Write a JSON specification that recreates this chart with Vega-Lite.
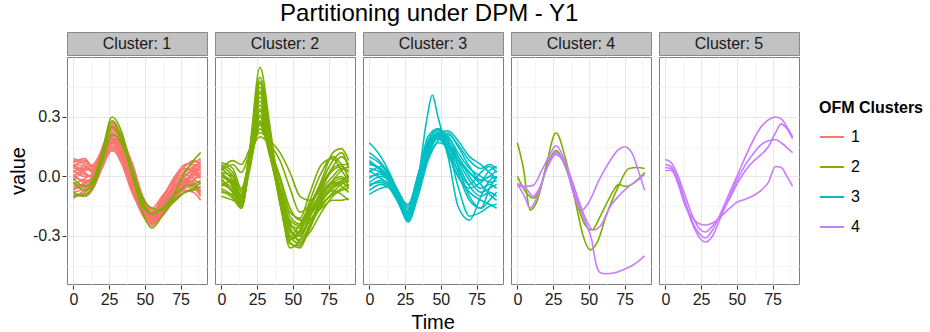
{
"$schema": "https://vega.github.io/schema/vega-lite/v6.json",
"padding": {"left": 8, "top": 1, "right": 5, "bottom": 0},
"config": {
  "font": "Liberation Sans",
  "view": {"stroke": null},
  "title": {"fontSize": 24, "fontWeight": "normal", "color": "#000000", "anchor": "middle", "offset": 6, "dx": -37},
  "concat": {"spacing": 0}
},
"title": "Partitioning under DPM - Y1",
"datasets": {
"strips": [
{"c":1,"lab":"Cluster: 1"},{"c":2,"lab":"Cluster: 2"},{"c":3,"lab":"Cluster: 3"},{"c":4,"lab":"Cluster: 4"},{"c":5,"lab":"Cluster: 5"}
],
"curves": [
{"c":1,"g":1,"i":"a1","t":0,"v":0.08},{"c":1,"g":1,"i":"a1","t":8,"v":0.06},{"c":1,"g":1,"i":"a1","t":14,"v":0.03},{"c":1,"g":1,"i":"a1","t":20,"v":0.12},{"c":1,"g":1,"i":"a1","t":27,"v":0.24},{"c":1,"g":1,"i":"a1","t":34,"v":0.16},{"c":1,"g":1,"i":"a1","t":41,"v":0.0},{"c":1,"g":1,"i":"a1","t":48,"v":-0.14},{"c":1,"g":1,"i":"a1","t":55,"v":-0.2},{"c":1,"g":1,"i":"a1","t":62,"v":-0.14},{"c":1,"g":1,"i":"a1","t":70,"v":-0.06},{"c":1,"g":1,"i":"a1","t":78,"v":0.02},{"c":1,"g":1,"i":"a1","t":84,"v":0.05},{"c":1,"g":1,"i":"a1","t":89,"v":0.07},
{"c":1,"g":1,"i":"a2","t":0,"v":0.05},{"c":1,"g":1,"i":"a2","t":8,"v":0.08},{"c":1,"g":1,"i":"a2","t":14,"v":0.05},{"c":1,"g":1,"i":"a2","t":20,"v":0.14},{"c":1,"g":1,"i":"a2","t":27,"v":0.26},{"c":1,"g":1,"i":"a2","t":34,"v":0.2},{"c":1,"g":1,"i":"a2","t":41,"v":0.06},{"c":1,"g":1,"i":"a2","t":48,"v":-0.12},{"c":1,"g":1,"i":"a2","t":55,"v":-0.22},{"c":1,"g":1,"i":"a2","t":62,"v":-0.17},{"c":1,"g":1,"i":"a2","t":70,"v":-0.08},{"c":1,"g":1,"i":"a2","t":78,"v":0.0},{"c":1,"g":1,"i":"a2","t":84,"v":0.04},{"c":1,"g":1,"i":"a2","t":89,"v":0.03},
{"c":1,"g":1,"i":"a3","t":0,"v":0.0},{"c":1,"g":1,"i":"a3","t":8,"v":-0.02},{"c":1,"g":1,"i":"a3","t":14,"v":-0.02},{"c":1,"g":1,"i":"a3","t":20,"v":0.08},{"c":1,"g":1,"i":"a3","t":27,"v":0.2},{"c":1,"g":1,"i":"a3","t":34,"v":0.12},{"c":1,"g":1,"i":"a3","t":41,"v":-0.04},{"c":1,"g":1,"i":"a3","t":48,"v":-0.17},{"c":1,"g":1,"i":"a3","t":55,"v":-0.24},{"c":1,"g":1,"i":"a3","t":62,"v":-0.18},{"c":1,"g":1,"i":"a3","t":70,"v":-0.1},{"c":1,"g":1,"i":"a3","t":78,"v":-0.04},{"c":1,"g":1,"i":"a3","t":84,"v":0.0},{"c":1,"g":1,"i":"a3","t":89,"v":0.02},
{"c":1,"g":1,"i":"a4","t":0,"v":-0.05},{"c":1,"g":1,"i":"a4","t":8,"v":-0.04},{"c":1,"g":1,"i":"a4","t":14,"v":0.0},{"c":1,"g":1,"i":"a4","t":20,"v":0.1},{"c":1,"g":1,"i":"a4","t":27,"v":0.22},{"c":1,"g":1,"i":"a4","t":34,"v":0.14},{"c":1,"g":1,"i":"a4","t":41,"v":-0.02},{"c":1,"g":1,"i":"a4","t":48,"v":-0.16},{"c":1,"g":1,"i":"a4","t":55,"v":-0.21},{"c":1,"g":1,"i":"a4","t":62,"v":-0.16},{"c":1,"g":1,"i":"a4","t":70,"v":-0.09},{"c":1,"g":1,"i":"a4","t":78,"v":-0.05},{"c":1,"g":1,"i":"a4","t":84,"v":-0.02},{"c":1,"g":1,"i":"a4","t":89,"v":-0.04},
{"c":1,"g":1,"i":"a5","t":0,"v":-0.1},{"c":1,"g":1,"i":"a5","t":8,"v":-0.08},{"c":1,"g":1,"i":"a5","t":14,"v":-0.04},{"c":1,"g":1,"i":"a5","t":20,"v":0.06},{"c":1,"g":1,"i":"a5","t":27,"v":0.16},{"c":1,"g":1,"i":"a5","t":34,"v":0.1},{"c":1,"g":1,"i":"a5","t":41,"v":-0.06},{"c":1,"g":1,"i":"a5","t":48,"v":-0.18},{"c":1,"g":1,"i":"a5","t":55,"v":-0.23},{"c":1,"g":1,"i":"a5","t":62,"v":-0.2},{"c":1,"g":1,"i":"a5","t":70,"v":-0.13},{"c":1,"g":1,"i":"a5","t":78,"v":-0.08},{"c":1,"g":1,"i":"a5","t":84,"v":-0.06},{"c":1,"g":1,"i":"a5","t":89,"v":-0.1},
{"c":1,"g":1,"i":"a6","t":0,"v":0.03},{"c":1,"g":1,"i":"a6","t":8,"v":0.0},{"c":1,"g":1,"i":"a6","t":14,"v":0.01},{"c":1,"g":1,"i":"a6","t":20,"v":0.09},{"c":1,"g":1,"i":"a6","t":27,"v":0.18},{"c":1,"g":1,"i":"a6","t":34,"v":0.15},{"c":1,"g":1,"i":"a6","t":41,"v":0.02},{"c":1,"g":1,"i":"a6","t":48,"v":-0.1},{"c":1,"g":1,"i":"a6","t":55,"v":-0.17},{"c":1,"g":1,"i":"a6","t":62,"v":-0.13},{"c":1,"g":1,"i":"a6","t":70,"v":-0.04},{"c":1,"g":1,"i":"a6","t":78,"v":0.03},{"c":1,"g":1,"i":"a6","t":84,"v":0.06},{"c":1,"g":1,"i":"a6","t":89,"v":0.05},
{"c":1,"g":1,"i":"a7","t":0,"v":-0.02},{"c":1,"g":1,"i":"a7","t":8,"v":0.03},{"c":1,"g":1,"i":"a7","t":14,"v":0.04},{"c":1,"g":1,"i":"a7","t":20,"v":0.11},{"c":1,"g":1,"i":"a7","t":27,"v":0.21},{"c":1,"g":1,"i":"a7","t":34,"v":0.17},{"c":1,"g":1,"i":"a7","t":41,"v":0.07},{"c":1,"g":1,"i":"a7","t":48,"v":-0.09},{"c":1,"g":1,"i":"a7","t":55,"v":-0.18},{"c":1,"g":1,"i":"a7","t":62,"v":-0.15},{"c":1,"g":1,"i":"a7","t":70,"v":-0.06},{"c":1,"g":1,"i":"a7","t":78,"v":0.01},{"c":1,"g":1,"i":"a7","t":84,"v":-0.01},{"c":1,"g":1,"i":"a7","t":89,"v":0.0},
{"c":1,"g":1,"i":"a8","t":0,"v":0.06},{"c":1,"g":1,"i":"a8","t":8,"v":0.02},{"c":1,"g":1,"i":"a8","t":14,"v":-0.01},{"c":1,"g":1,"i":"a8","t":20,"v":0.07},{"c":1,"g":1,"i":"a8","t":27,"v":0.15},{"c":1,"g":1,"i":"a8","t":34,"v":0.11},{"c":1,"g":1,"i":"a8","t":41,"v":0.0},{"c":1,"g":1,"i":"a8","t":48,"v":-0.13},{"c":1,"g":1,"i":"a8","t":55,"v":-0.19},{"c":1,"g":1,"i":"a8","t":62,"v":-0.12},{"c":1,"g":1,"i":"a8","t":70,"v":-0.02},{"c":1,"g":1,"i":"a8","t":78,"v":0.05},{"c":1,"g":1,"i":"a8","t":84,"v":0.08},{"c":1,"g":1,"i":"a8","t":89,"v":0.06},
{"c":1,"g":1,"i":"a9","t":0,"v":-0.08},{"c":1,"g":1,"i":"a9","t":8,"v":-0.06},{"c":1,"g":1,"i":"a9","t":14,"v":-0.03},{"c":1,"g":1,"i":"a9","t":20,"v":0.05},{"c":1,"g":1,"i":"a9","t":27,"v":0.13},{"c":1,"g":1,"i":"a9","t":34,"v":0.08},{"c":1,"g":1,"i":"a9","t":41,"v":-0.05},{"c":1,"g":1,"i":"a9","t":48,"v":-0.15},{"c":1,"g":1,"i":"a9","t":55,"v":-0.2},{"c":1,"g":1,"i":"a9","t":62,"v":-0.17},{"c":1,"g":1,"i":"a9","t":70,"v":-0.11},{"c":1,"g":1,"i":"a9","t":78,"v":-0.07},{"c":1,"g":1,"i":"a9","t":84,"v":-0.08},{"c":1,"g":1,"i":"a9","t":89,"v":-0.12},
{"c":1,"g":1,"i":"a10","t":0,"v":0.02},{"c":1,"g":1,"i":"a10","t":8,"v":0.05},{"c":1,"g":1,"i":"a10","t":14,"v":0.02},{"c":1,"g":1,"i":"a10","t":20,"v":0.1},{"c":1,"g":1,"i":"a10","t":27,"v":0.19},{"c":1,"g":1,"i":"a10","t":34,"v":0.09},{"c":1,"g":1,"i":"a10","t":41,"v":-0.07},{"c":1,"g":1,"i":"a10","t":48,"v":-0.19},{"c":1,"g":1,"i":"a10","t":55,"v":-0.25},{"c":1,"g":1,"i":"a10","t":62,"v":-0.19},{"c":1,"g":1,"i":"a10","t":70,"v":-0.11},{"c":1,"g":1,"i":"a10","t":78,"v":-0.03},{"c":1,"g":1,"i":"a10","t":84,"v":0.02},{"c":1,"g":1,"i":"a10","t":89,"v":0.0},
{"c":1,"g":1,"i":"a11","t":0,"v":-0.04},{"c":1,"g":1,"i":"a11","t":8,"v":-0.01},{"c":1,"g":1,"i":"a11","t":14,"v":0.02},{"c":1,"g":1,"i":"a11","t":20,"v":0.12},{"c":1,"g":1,"i":"a11","t":27,"v":0.23},{"c":1,"g":1,"i":"a11","t":34,"v":0.18},{"c":1,"g":1,"i":"a11","t":41,"v":0.03},{"c":1,"g":1,"i":"a11","t":48,"v":-0.11},{"c":1,"g":1,"i":"a11","t":55,"v":-0.16},{"c":1,"g":1,"i":"a11","t":62,"v":-0.1},{"c":1,"g":1,"i":"a11","t":70,"v":-0.03},{"c":1,"g":1,"i":"a11","t":78,"v":0.04},{"c":1,"g":1,"i":"a11","t":84,"v":0.03},{"c":1,"g":1,"i":"a11","t":89,"v":0.01},
{"c":1,"g":1,"i":"a12","t":0,"v":0.07},{"c":1,"g":1,"i":"a12","t":8,"v":0.09},{"c":1,"g":1,"i":"a12","t":14,"v":0.04},{"c":1,"g":1,"i":"a12","t":20,"v":0.1},{"c":1,"g":1,"i":"a12","t":27,"v":0.17},{"c":1,"g":1,"i":"a12","t":34,"v":0.13},{"c":1,"g":1,"i":"a12","t":41,"v":-0.01},{"c":1,"g":1,"i":"a12","t":48,"v":-0.14},{"c":1,"g":1,"i":"a12","t":55,"v":-0.22},{"c":1,"g":1,"i":"a12","t":62,"v":-0.19},{"c":1,"g":1,"i":"a12","t":70,"v":-0.09},{"c":1,"g":1,"i":"a12","t":78,"v":-0.02},{"c":1,"g":1,"i":"a12","t":84,"v":0.01},{"c":1,"g":1,"i":"a12","t":89,"v":0.04},
{"c":1,"g":1,"i":"a13","t":0,"v":-0.11},{"c":1,"g":1,"i":"a13","t":8,"v":-0.07},{"c":1,"g":1,"i":"a13","t":14,"v":-0.05},{"c":1,"g":1,"i":"a13","t":20,"v":0.04},{"c":1,"g":1,"i":"a13","t":27,"v":0.14},{"c":1,"g":1,"i":"a13","t":34,"v":0.06},{"c":1,"g":1,"i":"a13","t":41,"v":-0.08},{"c":1,"g":1,"i":"a13","t":48,"v":-0.17},{"c":1,"g":1,"i":"a13","t":55,"v":-0.21},{"c":1,"g":1,"i":"a13","t":62,"v":-0.14},{"c":1,"g":1,"i":"a13","t":70,"v":-0.07},{"c":1,"g":1,"i":"a13","t":78,"v":-0.03},{"c":1,"g":1,"i":"a13","t":84,"v":-0.05},{"c":1,"g":1,"i":"a13","t":89,"v":-0.07},
{"c":1,"g":1,"i":"a14","t":0,"v":0.01},{"c":1,"g":1,"i":"a14","t":8,"v":-0.03},{"c":1,"g":1,"i":"a14","t":14,"v":0.0},{"c":1,"g":1,"i":"a14","t":20,"v":0.08},{"c":1,"g":1,"i":"a14","t":27,"v":0.17},{"c":1,"g":1,"i":"a14","t":34,"v":0.13},{"c":1,"g":1,"i":"a14","t":41,"v":0.01},{"c":1,"g":1,"i":"a14","t":48,"v":-0.12},{"c":1,"g":1,"i":"a14","t":55,"v":-0.2},{"c":1,"g":1,"i":"a14","t":62,"v":-0.16},{"c":1,"g":1,"i":"a14","t":70,"v":-0.05},{"c":1,"g":1,"i":"a14","t":78,"v":0.0},{"c":1,"g":1,"i":"a14","t":84,"v":0.04},{"c":1,"g":1,"i":"a14","t":89,"v":0.08},
{"c":1,"g":1,"i":"a15","t":0,"v":-0.06},{"c":1,"g":1,"i":"a15","t":8,"v":-0.05},{"c":1,"g":1,"i":"a15","t":14,"v":-0.02},{"c":1,"g":1,"i":"a15","t":20,"v":0.07},{"c":1,"g":1,"i":"a15","t":27,"v":0.18},{"c":1,"g":1,"i":"a15","t":34,"v":0.1},{"c":1,"g":1,"i":"a15","t":41,"v":-0.03},{"c":1,"g":1,"i":"a15","t":48,"v":-0.16},{"c":1,"g":1,"i":"a15","t":55,"v":-0.22},{"c":1,"g":1,"i":"a15","t":62,"v":-0.14},{"c":1,"g":1,"i":"a15","t":70,"v":-0.05},{"c":1,"g":1,"i":"a15","t":78,"v":-0.01},{"c":1,"g":1,"i":"a15","t":84,"v":-0.04},{"c":1,"g":1,"i":"a15","t":89,"v":-0.06},
{"c":1,"g":1,"i":"a16","t":0,"v":0.04},{"c":1,"g":1,"i":"a16","t":8,"v":0.04},{"c":1,"g":1,"i":"a16","t":14,"v":0.03},{"c":1,"g":1,"i":"a16","t":20,"v":0.13},{"c":1,"g":1,"i":"a16","t":27,"v":0.27},{"c":1,"g":1,"i":"a16","t":34,"v":0.19},{"c":1,"g":1,"i":"a16","t":41,"v":0.01},{"c":1,"g":1,"i":"a16","t":48,"v":-0.15},{"c":1,"g":1,"i":"a16","t":55,"v":-0.24},{"c":1,"g":1,"i":"a16","t":62,"v":-0.2},{"c":1,"g":1,"i":"a16","t":70,"v":-0.12},{"c":1,"g":1,"i":"a16","t":78,"v":-0.05},{"c":1,"g":1,"i":"a16","t":84,"v":-0.02},{"c":1,"g":1,"i":"a16","t":89,"v":0.02},
{"c":1,"g":1,"i":"a17","t":0,"v":0.09},{"c":1,"g":1,"i":"a17","t":8,"v":0.07},{"c":1,"g":1,"i":"a17","t":14,"v":0.05},{"c":1,"g":1,"i":"a17","t":20,"v":0.11},{"c":1,"g":1,"i":"a17","t":27,"v":0.2},{"c":1,"g":1,"i":"a17","t":34,"v":0.14},{"c":1,"g":1,"i":"a17","t":41,"v":0.0},{"c":1,"g":1,"i":"a17","t":48,"v":-0.13},{"c":1,"g":1,"i":"a17","t":55,"v":-0.18},{"c":1,"g":1,"i":"a17","t":62,"v":-0.11},{"c":1,"g":1,"i":"a17","t":70,"v":-0.01},{"c":1,"g":1,"i":"a17","t":78,"v":0.06},{"c":1,"g":1,"i":"a17","t":84,"v":0.07},{"c":1,"g":1,"i":"a17","t":89,"v":0.09},
{"c":1,"g":1,"i":"a18","t":0,"v":0.0},{"c":1,"g":1,"i":"a18","t":8,"v":0.04},{"c":1,"g":1,"i":"a18","t":14,"v":0.06},{"c":1,"g":1,"i":"a18","t":20,"v":0.13},{"c":1,"g":1,"i":"a18","t":27,"v":0.22},{"c":1,"g":1,"i":"a18","t":34,"v":0.16},{"c":1,"g":1,"i":"a18","t":41,"v":0.03},{"c":1,"g":1,"i":"a18","t":48,"v":-0.13},{"c":1,"g":1,"i":"a18","t":55,"v":-0.21},{"c":1,"g":1,"i":"a18","t":62,"v":-0.18},{"c":1,"g":1,"i":"a18","t":70,"v":-0.1},{"c":1,"g":1,"i":"a18","t":78,"v":-0.03},{"c":1,"g":1,"i":"a18","t":84,"v":0.01},{"c":1,"g":1,"i":"a18","t":89,"v":-0.01},
{"c":1,"g":1,"i":"a19","t":0,"v":-0.07},{"c":1,"g":1,"i":"a19","t":8,"v":-0.03},{"c":1,"g":1,"i":"a19","t":14,"v":0.0},{"c":1,"g":1,"i":"a19","t":20,"v":0.09},{"c":1,"g":1,"i":"a19","t":27,"v":0.19},{"c":1,"g":1,"i":"a19","t":34,"v":0.12},{"c":1,"g":1,"i":"a19","t":41,"v":-0.02},{"c":1,"g":1,"i":"a19","t":48,"v":-0.15},{"c":1,"g":1,"i":"a19","t":55,"v":-0.23},{"c":1,"g":1,"i":"a19","t":62,"v":-0.17},{"c":1,"g":1,"i":"a19","t":70,"v":-0.08},{"c":1,"g":1,"i":"a19","t":78,"v":-0.02},{"c":1,"g":1,"i":"a19","t":84,"v":0.02},{"c":1,"g":1,"i":"a19","t":89,"v":0.05},
{"c":1,"g":1,"i":"a20","t":0,"v":0.05},{"c":1,"g":1,"i":"a20","t":8,"v":0.01},{"c":1,"g":1,"i":"a20","t":14,"v":0.0},{"c":1,"g":1,"i":"a20","t":20,"v":0.09},{"c":1,"g":1,"i":"a20","t":27,"v":0.21},{"c":1,"g":1,"i":"a20","t":34,"v":0.17},{"c":1,"g":1,"i":"a20","t":41,"v":0.04},{"c":1,"g":1,"i":"a20","t":48,"v":-0.11},{"c":1,"g":1,"i":"a20","t":55,"v":-0.19},{"c":1,"g":1,"i":"a20","t":62,"v":-0.15},{"c":1,"g":1,"i":"a20","t":70,"v":-0.07},{"c":1,"g":1,"i":"a20","t":78,"v":0.0},{"c":1,"g":1,"i":"a20","t":84,"v":0.03},{"c":1,"g":1,"i":"a20","t":89,"v":0.03},
{"c":1,"g":1,"i":"a21","t":0,"v":-0.03},{"c":1,"g":1,"i":"a21","t":8,"v":-0.05},{"c":1,"g":1,"i":"a21","t":14,"v":-0.03},{"c":1,"g":1,"i":"a21","t":20,"v":0.06},{"c":1,"g":1,"i":"a21","t":27,"v":0.15},{"c":1,"g":1,"i":"a21","t":34,"v":0.09},{"c":1,"g":1,"i":"a21","t":41,"v":-0.04},{"c":1,"g":1,"i":"a21","t":48,"v":-0.16},{"c":1,"g":1,"i":"a21","t":55,"v":-0.2},{"c":1,"g":1,"i":"a21","t":62,"v":-0.13},{"c":1,"g":1,"i":"a21","t":70,"v":-0.06},{"c":1,"g":1,"i":"a21","t":78,"v":-0.02},{"c":1,"g":1,"i":"a21","t":84,"v":-0.03},{"c":1,"g":1,"i":"a21","t":89,"v":-0.08},
{"c":1,"g":1,"i":"a22","t":0,"v":0.06},{"c":1,"g":1,"i":"a22","t":8,"v":0.05},{"c":1,"g":1,"i":"a22","t":14,"v":0.02},{"c":1,"g":1,"i":"a22","t":20,"v":0.11},{"c":1,"g":1,"i":"a22","t":27,"v":0.25},{"c":1,"g":1,"i":"a22","t":34,"v":0.18},{"c":1,"g":1,"i":"a22","t":41,"v":0.02},{"c":1,"g":1,"i":"a22","t":48,"v":-0.13},{"c":1,"g":1,"i":"a22","t":55,"v":-0.23},{"c":1,"g":1,"i":"a22","t":62,"v":-0.2},{"c":1,"g":1,"i":"a22","t":70,"v":-0.11},{"c":1,"g":1,"i":"a22","t":78,"v":-0.04},{"c":1,"g":1,"i":"a22","t":84,"v":0.03},{"c":1,"g":1,"i":"a22","t":89,"v":0.06},
{"c":1,"g":1,"i":"a23","t":0,"v":-0.09},{"c":1,"g":1,"i":"a23","t":8,"v":-0.1},{"c":1,"g":1,"i":"a23","t":14,"v":-0.06},{"c":1,"g":1,"i":"a23","t":20,"v":0.05},{"c":1,"g":1,"i":"a23","t":27,"v":0.17},{"c":1,"g":1,"i":"a23","t":34,"v":0.11},{"c":1,"g":1,"i":"a23","t":41,"v":-0.04},{"c":1,"g":1,"i":"a23","t":48,"v":-0.17},{"c":1,"g":1,"i":"a23","t":55,"v":-0.22},{"c":1,"g":1,"i":"a23","t":62,"v":-0.18},{"c":1,"g":1,"i":"a23","t":70,"v":-0.12},{"c":1,"g":1,"i":"a23","t":78,"v":-0.06},{"c":1,"g":1,"i":"a23","t":84,"v":-0.05},{"c":1,"g":1,"i":"a23","t":89,"v":-0.09},
{"c":1,"g":2,"i":"b1","t":0,"v":-0.03},{"c":1,"g":2,"i":"b1","t":8,"v":-0.07},{"c":1,"g":2,"i":"b1","t":14,"v":-0.02},{"c":1,"g":2,"i":"b1","t":20,"v":0.12},{"c":1,"g":2,"i":"b1","t":27,"v":0.3},{"c":1,"g":2,"i":"b1","t":34,"v":0.22},{"c":1,"g":2,"i":"b1","t":41,"v":0.02},{"c":1,"g":2,"i":"b1","t":48,"v":-0.17},{"c":1,"g":2,"i":"b1","t":55,"v":-0.26},{"c":1,"g":2,"i":"b1","t":62,"v":-0.2},{"c":1,"g":2,"i":"b1","t":70,"v":-0.1},{"c":1,"g":2,"i":"b1","t":78,"v":0.02},{"c":1,"g":2,"i":"b1","t":84,"v":0.08},{"c":1,"g":2,"i":"b1","t":89,"v":0.12},
{"c":1,"g":2,"i":"b2","t":0,"v":-0.08},{"c":1,"g":2,"i":"b2","t":8,"v":-0.1},{"c":1,"g":2,"i":"b2","t":14,"v":-0.04},{"c":1,"g":2,"i":"b2","t":20,"v":0.1},{"c":1,"g":2,"i":"b2","t":27,"v":0.28},{"c":1,"g":2,"i":"b2","t":34,"v":0.2},{"c":1,"g":2,"i":"b2","t":41,"v":0.04},{"c":1,"g":2,"i":"b2","t":48,"v":-0.1},{"c":1,"g":2,"i":"b2","t":55,"v":-0.16},{"c":1,"g":2,"i":"b2","t":62,"v":-0.17},{"c":1,"g":2,"i":"b2","t":70,"v":-0.13},{"c":1,"g":2,"i":"b2","t":78,"v":-0.08},{"c":1,"g":2,"i":"b2","t":84,"v":-0.06},{"c":1,"g":2,"i":"b2","t":89,"v":-0.03},
{"c":1,"g":2,"i":"b3","t":0,"v":-0.01},{"c":1,"g":2,"i":"b3","t":8,"v":-0.05},{"c":1,"g":2,"i":"b3","t":14,"v":-0.01},{"c":1,"g":2,"i":"b3","t":20,"v":0.1},{"c":1,"g":2,"i":"b3","t":27,"v":0.25},{"c":1,"g":2,"i":"b3","t":34,"v":0.18},{"c":1,"g":2,"i":"b3","t":41,"v":0.01},{"c":1,"g":2,"i":"b3","t":48,"v":-0.14},{"c":1,"g":2,"i":"b3","t":55,"v":-0.19},{"c":1,"g":2,"i":"b3","t":62,"v":-0.16},{"c":1,"g":2,"i":"b3","t":70,"v":-0.12},{"c":1,"g":2,"i":"b3","t":78,"v":-0.08},{"c":1,"g":2,"i":"b3","t":84,"v":-0.07},{"c":1,"g":2,"i":"b3","t":89,"v":-0.05},
{"c":1,"g":2,"i":"b4","t":0,"v":-0.1},{"c":1,"g":2,"i":"b4","t":8,"v":-0.09},{"c":1,"g":2,"i":"b4","t":14,"v":-0.05},{"c":1,"g":2,"i":"b4","t":20,"v":0.07},{"c":1,"g":2,"i":"b4","t":27,"v":0.21},{"c":1,"g":2,"i":"b4","t":34,"v":0.16},{"c":1,"g":2,"i":"b4","t":41,"v":0.02},{"c":1,"g":2,"i":"b4","t":48,"v":-0.12},{"c":1,"g":2,"i":"b4","t":55,"v":-0.19},{"c":1,"g":2,"i":"b4","t":62,"v":-0.16},{"c":1,"g":2,"i":"b4","t":70,"v":-0.1},{"c":1,"g":2,"i":"b4","t":78,"v":-0.05},{"c":1,"g":2,"i":"b4","t":84,"v":-0.04},{"c":1,"g":2,"i":"b4","t":89,"v":-0.02},
{"c":2,"g":2,"i":"d1","t":0,"v":0.02},{"c":2,"g":2,"i":"d1","t":8,"v":-0.05},{"c":2,"g":2,"i":"d1","t":14,"v":-0.14},{"c":2,"g":2,"i":"d1","t":20,"v":0.15},{"c":2,"g":2,"i":"d1","t":27,"v":0.55},{"c":2,"g":2,"i":"d1","t":34,"v":0.25},{"c":2,"g":2,"i":"d1","t":41,"v":-0.1},{"c":2,"g":2,"i":"d1","t":48,"v":-0.33},{"c":2,"g":2,"i":"d1","t":55,"v":-0.36},{"c":2,"g":2,"i":"d1","t":62,"v":-0.25},{"c":2,"g":2,"i":"d1","t":70,"v":-0.15},{"c":2,"g":2,"i":"d1","t":78,"v":-0.08},{"c":2,"g":2,"i":"d1","t":84,"v":-0.04},{"c":2,"g":2,"i":"d1","t":89,"v":-0.02},
{"c":2,"g":2,"i":"d2","t":0,"v":-0.03},{"c":2,"g":2,"i":"d2","t":8,"v":-0.08},{"c":2,"g":2,"i":"d2","t":14,"v":-0.15},{"c":2,"g":2,"i":"d2","t":20,"v":0.12},{"c":2,"g":2,"i":"d2","t":27,"v":0.47},{"c":2,"g":2,"i":"d2","t":34,"v":0.2},{"c":2,"g":2,"i":"d2","t":41,"v":-0.12},{"c":2,"g":2,"i":"d2","t":48,"v":-0.3},{"c":2,"g":2,"i":"d2","t":55,"v":-0.34},{"c":2,"g":2,"i":"d2","t":62,"v":-0.24},{"c":2,"g":2,"i":"d2","t":70,"v":-0.12},{"c":2,"g":2,"i":"d2","t":78,"v":-0.06},{"c":2,"g":2,"i":"d2","t":84,"v":-0.03},{"c":2,"g":2,"i":"d2","t":89,"v":0.0},
{"c":2,"g":2,"i":"d3","t":0,"v":0.05},{"c":2,"g":2,"i":"d3","t":8,"v":0.0},{"c":2,"g":2,"i":"d3","t":14,"v":-0.1},{"c":2,"g":2,"i":"d3","t":20,"v":0.14},{"c":2,"g":2,"i":"d3","t":27,"v":0.45},{"c":2,"g":2,"i":"d3","t":34,"v":0.18},{"c":2,"g":2,"i":"d3","t":41,"v":-0.08},{"c":2,"g":2,"i":"d3","t":48,"v":-0.27},{"c":2,"g":2,"i":"d3","t":55,"v":-0.3},{"c":2,"g":2,"i":"d3","t":62,"v":-0.2},{"c":2,"g":2,"i":"d3","t":70,"v":-0.1},{"c":2,"g":2,"i":"d3","t":78,"v":-0.02},{"c":2,"g":2,"i":"d3","t":84,"v":0.03},{"c":2,"g":2,"i":"d3","t":89,"v":0.05},
{"c":2,"g":2,"i":"d4","t":0,"v":-0.06},{"c":2,"g":2,"i":"d4","t":8,"v":-0.1},{"c":2,"g":2,"i":"d4","t":14,"v":-0.16},{"c":2,"g":2,"i":"d4","t":20,"v":0.08},{"c":2,"g":2,"i":"d4","t":27,"v":0.4},{"c":2,"g":2,"i":"d4","t":34,"v":0.16},{"c":2,"g":2,"i":"d4","t":41,"v":-0.14},{"c":2,"g":2,"i":"d4","t":48,"v":-0.32},{"c":2,"g":2,"i":"d4","t":55,"v":-0.28},{"c":2,"g":2,"i":"d4","t":62,"v":-0.18},{"c":2,"g":2,"i":"d4","t":70,"v":-0.08},{"c":2,"g":2,"i":"d4","t":78,"v":-0.03},{"c":2,"g":2,"i":"d4","t":84,"v":-0.05},{"c":2,"g":2,"i":"d4","t":89,"v":-0.08},
{"c":2,"g":2,"i":"d5","t":0,"v":0.0},{"c":2,"g":2,"i":"d5","t":8,"v":-0.04},{"c":2,"g":2,"i":"d5","t":14,"v":-0.12},{"c":2,"g":2,"i":"d5","t":20,"v":0.1},{"c":2,"g":2,"i":"d5","t":27,"v":0.36},{"c":2,"g":2,"i":"d5","t":34,"v":0.14},{"c":2,"g":2,"i":"d5","t":41,"v":-0.06},{"c":2,"g":2,"i":"d5","t":48,"v":-0.24},{"c":2,"g":2,"i":"d5","t":55,"v":-0.28},{"c":2,"g":2,"i":"d5","t":62,"v":-0.22},{"c":2,"g":2,"i":"d5","t":70,"v":-0.14},{"c":2,"g":2,"i":"d5","t":78,"v":-0.09},{"c":2,"g":2,"i":"d5","t":84,"v":-0.06},{"c":2,"g":2,"i":"d5","t":89,"v":-0.04},
{"c":2,"g":2,"i":"d6","t":0,"v":0.07},{"c":2,"g":2,"i":"d6","t":8,"v":0.04},{"c":2,"g":2,"i":"d6","t":14,"v":-0.06},{"c":2,"g":2,"i":"d6","t":20,"v":0.1},{"c":2,"g":2,"i":"d6","t":27,"v":0.3},{"c":2,"g":2,"i":"d6","t":34,"v":0.12},{"c":2,"g":2,"i":"d6","t":41,"v":-0.05},{"c":2,"g":2,"i":"d6","t":48,"v":-0.2},{"c":2,"g":2,"i":"d6","t":55,"v":-0.24},{"c":2,"g":2,"i":"d6","t":62,"v":-0.16},{"c":2,"g":2,"i":"d6","t":70,"v":-0.04},{"c":2,"g":2,"i":"d6","t":78,"v":0.04},{"c":2,"g":2,"i":"d6","t":84,"v":0.06},{"c":2,"g":2,"i":"d6","t":89,"v":0.06},
{"c":2,"g":2,"i":"d7","t":0,"v":-0.1},{"c":2,"g":2,"i":"d7","t":8,"v":-0.12},{"c":2,"g":2,"i":"d7","t":14,"v":-0.14},{"c":2,"g":2,"i":"d7","t":20,"v":0.04},{"c":2,"g":2,"i":"d7","t":27,"v":0.26},{"c":2,"g":2,"i":"d7","t":34,"v":0.1},{"c":2,"g":2,"i":"d7","t":41,"v":-0.11},{"c":2,"g":2,"i":"d7","t":48,"v":-0.26},{"c":2,"g":2,"i":"d7","t":55,"v":-0.32},{"c":2,"g":2,"i":"d7","t":62,"v":-0.24},{"c":2,"g":2,"i":"d7","t":70,"v":-0.1},{"c":2,"g":2,"i":"d7","t":78,"v":-0.02},{"c":2,"g":2,"i":"d7","t":84,"v":0.0},{"c":2,"g":2,"i":"d7","t":89,"v":-0.05},
{"c":2,"g":2,"i":"d8","t":0,"v":0.03},{"c":2,"g":2,"i":"d8","t":8,"v":0.06},{"c":2,"g":2,"i":"d8","t":14,"v":0.02},{"c":2,"g":2,"i":"d8","t":20,"v":0.12},{"c":2,"g":2,"i":"d8","t":27,"v":0.2},{"c":2,"g":2,"i":"d8","t":34,"v":0.16},{"c":2,"g":2,"i":"d8","t":41,"v":0.08},{"c":2,"g":2,"i":"d8","t":48,"v":-0.06},{"c":2,"g":2,"i":"d8","t":55,"v":-0.18},{"c":2,"g":2,"i":"d8","t":62,"v":-0.14},{"c":2,"g":2,"i":"d8","t":70,"v":-0.02},{"c":2,"g":2,"i":"d8","t":78,"v":0.12},{"c":2,"g":2,"i":"d8","t":84,"v":0.14},{"c":2,"g":2,"i":"d8","t":89,"v":0.08},
{"c":2,"g":2,"i":"d9","t":0,"v":0.04},{"c":2,"g":2,"i":"d9","t":8,"v":0.08},{"c":2,"g":2,"i":"d9","t":14,"v":0.06},{"c":2,"g":2,"i":"d9","t":20,"v":0.14},{"c":2,"g":2,"i":"d9","t":27,"v":0.22},{"c":2,"g":2,"i":"d9","t":34,"v":0.18},{"c":2,"g":2,"i":"d9","t":41,"v":0.12},{"c":2,"g":2,"i":"d9","t":48,"v":0.02},{"c":2,"g":2,"i":"d9","t":55,"v":-0.1},{"c":2,"g":2,"i":"d9","t":62,"v":-0.12},{"c":2,"g":2,"i":"d9","t":70,"v":-0.06},{"c":2,"g":2,"i":"d9","t":78,"v":0.05},{"c":2,"g":2,"i":"d9","t":84,"v":0.1},{"c":2,"g":2,"i":"d9","t":89,"v":0.06},
{"c":2,"g":2,"i":"d10","t":0,"v":-0.02},{"c":2,"g":2,"i":"d10","t":8,"v":-0.06},{"c":2,"g":2,"i":"d10","t":14,"v":-0.11},{"c":2,"g":2,"i":"d10","t":20,"v":0.09},{"c":2,"g":2,"i":"d10","t":27,"v":0.33},{"c":2,"g":2,"i":"d10","t":34,"v":0.14},{"c":2,"g":2,"i":"d10","t":41,"v":-0.09},{"c":2,"g":2,"i":"d10","t":48,"v":-0.25},{"c":2,"g":2,"i":"d10","t":55,"v":-0.26},{"c":2,"g":2,"i":"d10","t":62,"v":-0.12},{"c":2,"g":2,"i":"d10","t":70,"v":0.02},{"c":2,"g":2,"i":"d10","t":78,"v":0.1},{"c":2,"g":2,"i":"d10","t":84,"v":0.06},{"c":2,"g":2,"i":"d10","t":89,"v":0.02},
{"c":2,"g":2,"i":"d11","t":0,"v":-0.08},{"c":2,"g":2,"i":"d11","t":8,"v":-0.09},{"c":2,"g":2,"i":"d11","t":14,"v":-0.13},{"c":2,"g":2,"i":"d11","t":20,"v":0.06},{"c":2,"g":2,"i":"d11","t":27,"v":0.28},{"c":2,"g":2,"i":"d11","t":34,"v":0.1},{"c":2,"g":2,"i":"d11","t":41,"v":-0.1},{"c":2,"g":2,"i":"d11","t":48,"v":-0.28},{"c":2,"g":2,"i":"d11","t":55,"v":-0.3},{"c":2,"g":2,"i":"d11","t":62,"v":-0.22},{"c":2,"g":2,"i":"d11","t":70,"v":-0.16},{"c":2,"g":2,"i":"d11","t":78,"v":-0.12},{"c":2,"g":2,"i":"d11","t":84,"v":-0.12},{"c":2,"g":2,"i":"d11","t":89,"v":-0.11},
{"c":2,"g":2,"i":"d12","t":0,"v":0.01},{"c":2,"g":2,"i":"d12","t":8,"v":-0.03},{"c":2,"g":2,"i":"d12","t":14,"v":-0.09},{"c":2,"g":2,"i":"d12","t":20,"v":0.11},{"c":2,"g":2,"i":"d12","t":27,"v":0.38},{"c":2,"g":2,"i":"d12","t":34,"v":0.16},{"c":2,"g":2,"i":"d12","t":41,"v":-0.07},{"c":2,"g":2,"i":"d12","t":48,"v":-0.22},{"c":2,"g":2,"i":"d12","t":55,"v":-0.25},{"c":2,"g":2,"i":"d12","t":62,"v":-0.17},{"c":2,"g":2,"i":"d12","t":70,"v":-0.09},{"c":2,"g":2,"i":"d12","t":78,"v":-0.04},{"c":2,"g":2,"i":"d12","t":84,"v":-0.02},{"c":2,"g":2,"i":"d12","t":89,"v":0.01},
{"c":2,"g":2,"i":"d13","t":0,"v":-0.04},{"c":2,"g":2,"i":"d13","t":8,"v":-0.07},{"c":2,"g":2,"i":"d13","t":14,"v":-0.12},{"c":2,"g":2,"i":"d13","t":20,"v":0.13},{"c":2,"g":2,"i":"d13","t":27,"v":0.5},{"c":2,"g":2,"i":"d13","t":34,"v":0.22},{"c":2,"g":2,"i":"d13","t":41,"v":-0.11},{"c":2,"g":2,"i":"d13","t":48,"v":-0.36},{"c":2,"g":2,"i":"d13","t":55,"v":-0.32},{"c":2,"g":2,"i":"d13","t":62,"v":-0.2},{"c":2,"g":2,"i":"d13","t":70,"v":-0.07},{"c":2,"g":2,"i":"d13","t":78,"v":0.0},{"c":2,"g":2,"i":"d13","t":84,"v":0.04},{"c":2,"g":2,"i":"d13","t":89,"v":0.03},
{"c":2,"g":2,"i":"d14","t":0,"v":0.06},{"c":2,"g":2,"i":"d14","t":8,"v":0.02},{"c":2,"g":2,"i":"d14","t":14,"v":-0.08},{"c":2,"g":2,"i":"d14","t":20,"v":0.07},{"c":2,"g":2,"i":"d14","t":27,"v":0.24},{"c":2,"g":2,"i":"d14","t":34,"v":0.14},{"c":2,"g":2,"i":"d14","t":41,"v":0.0},{"c":2,"g":2,"i":"d14","t":48,"v":-0.16},{"c":2,"g":2,"i":"d14","t":55,"v":-0.22},{"c":2,"g":2,"i":"d14","t":62,"v":-0.18},{"c":2,"g":2,"i":"d14","t":70,"v":-0.08},{"c":2,"g":2,"i":"d14","t":78,"v":-0.03},{"c":2,"g":2,"i":"d14","t":84,"v":-0.01},{"c":2,"g":2,"i":"d14","t":89,"v":-0.03},
{"c":2,"g":2,"i":"d15","t":0,"v":-0.05},{"c":2,"g":2,"i":"d15","t":8,"v":-0.02},{"c":2,"g":2,"i":"d15","t":14,"v":-0.1},{"c":2,"g":2,"i":"d15","t":20,"v":0.08},{"c":2,"g":2,"i":"d15","t":27,"v":0.34},{"c":2,"g":2,"i":"d15","t":34,"v":0.12},{"c":2,"g":2,"i":"d15","t":41,"v":-0.13},{"c":2,"g":2,"i":"d15","t":48,"v":-0.3},{"c":2,"g":2,"i":"d15","t":55,"v":-0.24},{"c":2,"g":2,"i":"d15","t":62,"v":-0.14},{"c":2,"g":2,"i":"d15","t":70,"v":-0.03},{"c":2,"g":2,"i":"d15","t":78,"v":0.08},{"c":2,"g":2,"i":"d15","t":84,"v":0.12},{"c":2,"g":2,"i":"d15","t":89,"v":0.04},
{"c":2,"g":2,"i":"d16","t":0,"v":0.0},{"c":2,"g":2,"i":"d16","t":8,"v":-0.05},{"c":2,"g":2,"i":"d16","t":14,"v":-0.15},{"c":2,"g":2,"i":"d16","t":20,"v":0.11},{"c":2,"g":2,"i":"d16","t":27,"v":0.43},{"c":2,"g":2,"i":"d16","t":34,"v":0.18},{"c":2,"g":2,"i":"d16","t":41,"v":-0.1},{"c":2,"g":2,"i":"d16","t":48,"v":-0.26},{"c":2,"g":2,"i":"d16","t":55,"v":-0.33},{"c":2,"g":2,"i":"d16","t":62,"v":-0.28},{"c":2,"g":2,"i":"d16","t":70,"v":-0.18},{"c":2,"g":2,"i":"d16","t":78,"v":-0.1},{"c":2,"g":2,"i":"d16","t":84,"v":-0.07},{"c":2,"g":2,"i":"d16","t":89,"v":-0.06},
{"c":2,"g":2,"i":"d17","t":0,"v":0.04},{"c":2,"g":2,"i":"d17","t":8,"v":-0.02},{"c":2,"g":2,"i":"d17","t":14,"v":-0.11},{"c":2,"g":2,"i":"d17","t":20,"v":0.1},{"c":2,"g":2,"i":"d17","t":27,"v":0.42},{"c":2,"g":2,"i":"d17","t":34,"v":0.17},{"c":2,"g":2,"i":"d17","t":41,"v":-0.12},{"c":2,"g":2,"i":"d17","t":48,"v":-0.31},{"c":2,"g":2,"i":"d17","t":55,"v":-0.27},{"c":2,"g":2,"i":"d17","t":62,"v":-0.15},{"c":2,"g":2,"i":"d17","t":70,"v":-0.05},{"c":2,"g":2,"i":"d17","t":78,"v":0.03},{"c":2,"g":2,"i":"d17","t":84,"v":0.05},{"c":2,"g":2,"i":"d17","t":89,"v":-0.01},
{"c":2,"g":2,"i":"d18","t":0,"v":-0.07},{"c":2,"g":2,"i":"d18","t":8,"v":-0.11},{"c":2,"g":2,"i":"d18","t":14,"v":-0.16},{"c":2,"g":2,"i":"d18","t":20,"v":0.07},{"c":2,"g":2,"i":"d18","t":27,"v":0.31},{"c":2,"g":2,"i":"d18","t":34,"v":0.12},{"c":2,"g":2,"i":"d18","t":41,"v":-0.08},{"c":2,"g":2,"i":"d18","t":48,"v":-0.23},{"c":2,"g":2,"i":"d18","t":55,"v":-0.29},{"c":2,"g":2,"i":"d18","t":62,"v":-0.2},{"c":2,"g":2,"i":"d18","t":70,"v":-0.11},{"c":2,"g":2,"i":"d18","t":78,"v":-0.05},{"c":2,"g":2,"i":"d18","t":84,"v":-0.03},{"c":2,"g":2,"i":"d18","t":89,"v":-0.06},
{"c":2,"g":2,"i":"d19","t":0,"v":0.02},{"c":2,"g":2,"i":"d19","t":8,"v":0.0},{"c":2,"g":2,"i":"d19","t":14,"v":-0.07},{"c":2,"g":2,"i":"d19","t":20,"v":0.1},{"c":2,"g":2,"i":"d19","t":27,"v":0.27},{"c":2,"g":2,"i":"d19","t":34,"v":0.15},{"c":2,"g":2,"i":"d19","t":41,"v":-0.02},{"c":2,"g":2,"i":"d19","t":48,"v":-0.18},{"c":2,"g":2,"i":"d19","t":55,"v":-0.21},{"c":2,"g":2,"i":"d19","t":62,"v":-0.08},{"c":2,"g":2,"i":"d19","t":70,"v":0.06},{"c":2,"g":2,"i":"d19","t":78,"v":0.09},{"c":2,"g":2,"i":"d19","t":84,"v":0.03},{"c":2,"g":2,"i":"d19","t":89,"v":-0.02},
{"c":2,"g":2,"i":"d20","t":0,"v":-0.01},{"c":2,"g":2,"i":"d20","t":8,"v":-0.08},{"c":2,"g":2,"i":"d20","t":14,"v":-0.13},{"c":2,"g":2,"i":"d20","t":20,"v":0.12},{"c":2,"g":2,"i":"d20","t":27,"v":0.48},{"c":2,"g":2,"i":"d20","t":34,"v":0.21},{"c":2,"g":2,"i":"d20","t":41,"v":-0.12},{"c":2,"g":2,"i":"d20","t":48,"v":-0.34},{"c":2,"g":2,"i":"d20","t":55,"v":-0.35},{"c":2,"g":2,"i":"d20","t":62,"v":-0.26},{"c":2,"g":2,"i":"d20","t":70,"v":-0.13},{"c":2,"g":2,"i":"d20","t":78,"v":-0.07},{"c":2,"g":2,"i":"d20","t":84,"v":-0.09},{"c":2,"g":2,"i":"d20","t":89,"v":-0.12},
{"c":3,"g":3,"i":"e1","t":0,"v":0.17},{"c":3,"g":3,"i":"e1","t":8,"v":0.1},{"c":3,"g":3,"i":"e1","t":14,"v":0.02},{"c":3,"g":3,"i":"e1","t":20,"v":-0.08},{"c":3,"g":3,"i":"e1","t":27,"v":-0.14},{"c":3,"g":3,"i":"e1","t":34,"v":0.0},{"c":3,"g":3,"i":"e1","t":41,"v":0.2},{"c":3,"g":3,"i":"e1","t":48,"v":0.24},{"c":3,"g":3,"i":"e1","t":55,"v":0.16},{"c":3,"g":3,"i":"e1","t":62,"v":0.08},{"c":3,"g":3,"i":"e1","t":70,"v":0.02},{"c":3,"g":3,"i":"e1","t":78,"v":-0.02},{"c":3,"g":3,"i":"e1","t":84,"v":0.0},{"c":3,"g":3,"i":"e1","t":89,"v":0.03},
{"c":3,"g":3,"i":"e2","t":0,"v":0.1},{"c":3,"g":3,"i":"e2","t":8,"v":0.06},{"c":3,"g":3,"i":"e2","t":14,"v":0.0},{"c":3,"g":3,"i":"e2","t":20,"v":-0.09},{"c":3,"g":3,"i":"e2","t":27,"v":-0.18},{"c":3,"g":3,"i":"e2","t":34,"v":-0.02},{"c":3,"g":3,"i":"e2","t":41,"v":0.16},{"c":3,"g":3,"i":"e2","t":48,"v":0.22},{"c":3,"g":3,"i":"e2","t":55,"v":0.2},{"c":3,"g":3,"i":"e2","t":62,"v":0.12},{"c":3,"g":3,"i":"e2","t":70,"v":0.04},{"c":3,"g":3,"i":"e2","t":78,"v":0.0},{"c":3,"g":3,"i":"e2","t":84,"v":-0.03},{"c":3,"g":3,"i":"e2","t":89,"v":-0.02},
{"c":3,"g":3,"i":"e3","t":0,"v":0.04},{"c":3,"g":3,"i":"e3","t":8,"v":0.02},{"c":3,"g":3,"i":"e3","t":14,"v":-0.02},{"c":3,"g":3,"i":"e3","t":20,"v":-0.1},{"c":3,"g":3,"i":"e3","t":27,"v":-0.2},{"c":3,"g":3,"i":"e3","t":34,"v":-0.02},{"c":3,"g":3,"i":"e3","t":40,"v":0.28},{"c":3,"g":3,"i":"e3","t":44,"v":0.41},{"c":3,"g":3,"i":"e3","t":48,"v":0.3},{"c":3,"g":3,"i":"e3","t":55,"v":0.12},{"c":3,"g":3,"i":"e3","t":62,"v":0.0},{"c":3,"g":3,"i":"e3","t":70,"v":-0.06},{"c":3,"g":3,"i":"e3","t":78,"v":-0.03},{"c":3,"g":3,"i":"e3","t":84,"v":0.0},{"c":3,"g":3,"i":"e3","t":89,"v":-0.01},
{"c":3,"g":3,"i":"e4","t":0,"v":0.0},{"c":3,"g":3,"i":"e4","t":8,"v":0.01},{"c":3,"g":3,"i":"e4","t":14,"v":-0.03},{"c":3,"g":3,"i":"e4","t":20,"v":-0.12},{"c":3,"g":3,"i":"e4","t":27,"v":-0.22},{"c":3,"g":3,"i":"e4","t":34,"v":-0.08},{"c":3,"g":3,"i":"e4","t":41,"v":0.1},{"c":3,"g":3,"i":"e4","t":48,"v":0.2},{"c":3,"g":3,"i":"e4","t":55,"v":0.14},{"c":3,"g":3,"i":"e4","t":62,"v":-0.05},{"c":3,"g":3,"i":"e4","t":70,"v":-0.2},{"c":3,"g":3,"i":"e4","t":78,"v":-0.18},{"c":3,"g":3,"i":"e4","t":84,"v":-0.15},{"c":3,"g":3,"i":"e4","t":89,"v":-0.14},
{"c":3,"g":3,"i":"e5","t":0,"v":-0.05},{"c":3,"g":3,"i":"e5","t":8,"v":-0.02},{"c":3,"g":3,"i":"e5","t":14,"v":-0.04},{"c":3,"g":3,"i":"e5","t":20,"v":-0.11},{"c":3,"g":3,"i":"e5","t":27,"v":-0.21},{"c":3,"g":3,"i":"e5","t":34,"v":-0.06},{"c":3,"g":3,"i":"e5","t":41,"v":0.12},{"c":3,"g":3,"i":"e5","t":48,"v":0.22},{"c":3,"g":3,"i":"e5","t":55,"v":0.18},{"c":3,"g":3,"i":"e5","t":62,"v":0.08},{"c":3,"g":3,"i":"e5","t":70,"v":-0.02},{"c":3,"g":3,"i":"e5","t":78,"v":-0.08},{"c":3,"g":3,"i":"e5","t":84,"v":-0.06},{"c":3,"g":3,"i":"e5","t":89,"v":-0.04},
{"c":3,"g":3,"i":"e6","t":0,"v":-0.09},{"c":3,"g":3,"i":"e6","t":8,"v":-0.06},{"c":3,"g":3,"i":"e6","t":14,"v":-0.05},{"c":3,"g":3,"i":"e6","t":20,"v":-0.12},{"c":3,"g":3,"i":"e6","t":27,"v":-0.23},{"c":3,"g":3,"i":"e6","t":34,"v":-0.1},{"c":3,"g":3,"i":"e6","t":41,"v":0.08},{"c":3,"g":3,"i":"e6","t":48,"v":0.18},{"c":3,"g":3,"i":"e6","t":55,"v":0.22},{"c":3,"g":3,"i":"e6","t":62,"v":0.15},{"c":3,"g":3,"i":"e6","t":70,"v":0.05},{"c":3,"g":3,"i":"e6","t":78,"v":-0.02},{"c":3,"g":3,"i":"e6","t":84,"v":0.03},{"c":3,"g":3,"i":"e6","t":89,"v":0.05},
{"c":3,"g":3,"i":"e7","t":0,"v":0.06},{"c":3,"g":3,"i":"e7","t":8,"v":0.04},{"c":3,"g":3,"i":"e7","t":14,"v":-0.01},{"c":3,"g":3,"i":"e7","t":20,"v":-0.09},{"c":3,"g":3,"i":"e7","t":27,"v":-0.16},{"c":3,"g":3,"i":"e7","t":34,"v":-0.02},{"c":3,"g":3,"i":"e7","t":41,"v":0.15},{"c":3,"g":3,"i":"e7","t":48,"v":0.21},{"c":3,"g":3,"i":"e7","t":55,"v":0.12},{"c":3,"g":3,"i":"e7","t":62,"v":0.0},{"c":3,"g":3,"i":"e7","t":70,"v":-0.08},{"c":3,"g":3,"i":"e7","t":78,"v":-0.12},{"c":3,"g":3,"i":"e7","t":84,"v":-0.14},{"c":3,"g":3,"i":"e7","t":89,"v":-0.16},
{"c":3,"g":3,"i":"e8","t":0,"v":0.02},{"c":3,"g":3,"i":"e8","t":8,"v":0.05},{"c":3,"g":3,"i":"e8","t":14,"v":0.01},{"c":3,"g":3,"i":"e8","t":20,"v":-0.08},{"c":3,"g":3,"i":"e8","t":27,"v":-0.19},{"c":3,"g":3,"i":"e8","t":34,"v":-0.04},{"c":3,"g":3,"i":"e8","t":41,"v":0.18},{"c":3,"g":3,"i":"e8","t":48,"v":0.23},{"c":3,"g":3,"i":"e8","t":55,"v":0.1},{"c":3,"g":3,"i":"e8","t":62,"v":-0.15},{"c":3,"g":3,"i":"e8","t":70,"v":-0.22},{"c":3,"g":3,"i":"e8","t":78,"v":-0.1},{"c":3,"g":3,"i":"e8","t":84,"v":-0.02},{"c":3,"g":3,"i":"e8","t":89,"v":0.0},
{"c":3,"g":3,"i":"e9","t":0,"v":-0.03},{"c":3,"g":3,"i":"e9","t":8,"v":0.0},{"c":3,"g":3,"i":"e9","t":14,"v":-0.02},{"c":3,"g":3,"i":"e9","t":20,"v":-0.1},{"c":3,"g":3,"i":"e9","t":27,"v":-0.17},{"c":3,"g":3,"i":"e9","t":34,"v":-0.03},{"c":3,"g":3,"i":"e9","t":41,"v":0.13},{"c":3,"g":3,"i":"e9","t":48,"v":0.2},{"c":3,"g":3,"i":"e9","t":55,"v":0.21},{"c":3,"g":3,"i":"e9","t":62,"v":0.16},{"c":3,"g":3,"i":"e9","t":70,"v":0.08},{"c":3,"g":3,"i":"e9","t":78,"v":0.04},{"c":3,"g":3,"i":"e9","t":84,"v":0.06},{"c":3,"g":3,"i":"e9","t":89,"v":0.04},
{"c":3,"g":3,"i":"e10","t":0,"v":0.08},{"c":3,"g":3,"i":"e10","t":8,"v":0.03},{"c":3,"g":3,"i":"e10","t":14,"v":-0.03},{"c":3,"g":3,"i":"e10","t":20,"v":-0.11},{"c":3,"g":3,"i":"e10","t":27,"v":-0.2},{"c":3,"g":3,"i":"e10","t":34,"v":-0.06},{"c":3,"g":3,"i":"e10","t":41,"v":0.11},{"c":3,"g":3,"i":"e10","t":48,"v":0.19},{"c":3,"g":3,"i":"e10","t":55,"v":0.17},{"c":3,"g":3,"i":"e10","t":62,"v":0.1},{"c":3,"g":3,"i":"e10","t":70,"v":0.0},{"c":3,"g":3,"i":"e10","t":78,"v":-0.06},{"c":3,"g":3,"i":"e10","t":84,"v":-0.04},{"c":3,"g":3,"i":"e10","t":89,"v":-0.06},
{"c":3,"g":3,"i":"e11","t":0,"v":-0.07},{"c":3,"g":3,"i":"e11","t":8,"v":-0.04},{"c":3,"g":3,"i":"e11","t":14,"v":-0.06},{"c":3,"g":3,"i":"e11","t":20,"v":-0.13},{"c":3,"g":3,"i":"e11","t":27,"v":-0.22},{"c":3,"g":3,"i":"e11","t":34,"v":-0.09},{"c":3,"g":3,"i":"e11","t":41,"v":0.09},{"c":3,"g":3,"i":"e11","t":48,"v":0.17},{"c":3,"g":3,"i":"e11","t":55,"v":0.15},{"c":3,"g":3,"i":"e11","t":62,"v":0.06},{"c":3,"g":3,"i":"e11","t":70,"v":-0.05},{"c":3,"g":3,"i":"e11","t":78,"v":-0.1},{"c":3,"g":3,"i":"e11","t":84,"v":-0.08},{"c":3,"g":3,"i":"e11","t":89,"v":-0.1},
{"c":3,"g":3,"i":"e12","t":0,"v":0.12},{"c":3,"g":3,"i":"e12","t":8,"v":0.07},{"c":3,"g":3,"i":"e12","t":14,"v":0.01},{"c":3,"g":3,"i":"e12","t":20,"v":-0.07},{"c":3,"g":3,"i":"e12","t":27,"v":-0.15},{"c":3,"g":3,"i":"e12","t":34,"v":0.01},{"c":3,"g":3,"i":"e12","t":41,"v":0.17},{"c":3,"g":3,"i":"e12","t":48,"v":0.24},{"c":3,"g":3,"i":"e12","t":55,"v":0.19},{"c":3,"g":3,"i":"e12","t":62,"v":0.05},{"c":3,"g":3,"i":"e12","t":70,"v":-0.1},{"c":3,"g":3,"i":"e12","t":78,"v":-0.16},{"c":3,"g":3,"i":"e12","t":84,"v":-0.12},{"c":3,"g":3,"i":"e12","t":89,"v":-0.08},
{"c":3,"g":3,"i":"e13","t":0,"v":0.03},{"c":3,"g":3,"i":"e13","t":8,"v":-0.01},{"c":3,"g":3,"i":"e13","t":14,"v":-0.04},{"c":3,"g":3,"i":"e13","t":20,"v":-0.11},{"c":3,"g":3,"i":"e13","t":27,"v":-0.19},{"c":3,"g":3,"i":"e13","t":34,"v":-0.07},{"c":3,"g":3,"i":"e13","t":41,"v":0.12},{"c":3,"g":3,"i":"e13","t":48,"v":0.21},{"c":3,"g":3,"i":"e13","t":55,"v":0.23},{"c":3,"g":3,"i":"e13","t":62,"v":0.18},{"c":3,"g":3,"i":"e13","t":70,"v":0.1},{"c":3,"g":3,"i":"e13","t":78,"v":0.06},{"c":3,"g":3,"i":"e13","t":84,"v":0.02},{"c":3,"g":3,"i":"e13","t":89,"v":-0.01},
{"c":3,"g":3,"i":"e14","t":0,"v":-0.01},{"c":3,"g":3,"i":"e14","t":8,"v":0.02},{"c":3,"g":3,"i":"e14","t":14,"v":0.0},{"c":3,"g":3,"i":"e14","t":20,"v":-0.09},{"c":3,"g":3,"i":"e14","t":27,"v":-0.18},{"c":3,"g":3,"i":"e14","t":34,"v":-0.05},{"c":3,"g":3,"i":"e14","t":41,"v":0.14},{"c":3,"g":3,"i":"e14","t":48,"v":0.19},{"c":3,"g":3,"i":"e14","t":55,"v":0.13},{"c":3,"g":3,"i":"e14","t":62,"v":0.03},{"c":3,"g":3,"i":"e14","t":70,"v":-0.04},{"c":3,"g":3,"i":"e14","t":78,"v":0.02},{"c":3,"g":3,"i":"e14","t":84,"v":0.05},{"c":3,"g":3,"i":"e14","t":89,"v":0.02},
{"c":3,"g":3,"i":"e15","t":0,"v":0.07},{"c":3,"g":3,"i":"e15","t":8,"v":0.03},{"c":3,"g":3,"i":"e15","t":14,"v":-0.02},{"c":3,"g":3,"i":"e15","t":20,"v":-0.1},{"c":3,"g":3,"i":"e15","t":27,"v":-0.21},{"c":3,"g":3,"i":"e15","t":34,"v":-0.07},{"c":3,"g":3,"i":"e15","t":41,"v":0.1},{"c":3,"g":3,"i":"e15","t":48,"v":0.21},{"c":3,"g":3,"i":"e15","t":55,"v":0.2},{"c":3,"g":3,"i":"e15","t":62,"v":0.1},{"c":3,"g":3,"i":"e15","t":70,"v":0.02},{"c":3,"g":3,"i":"e15","t":78,"v":-0.04},{"c":3,"g":3,"i":"e15","t":84,"v":-0.09},{"c":3,"g":3,"i":"e15","t":89,"v":-0.12},
{"c":3,"g":3,"i":"e16","t":0,"v":-0.04},{"c":3,"g":3,"i":"e16","t":8,"v":-0.03},{"c":3,"g":3,"i":"e16","t":14,"v":-0.05},{"c":3,"g":3,"i":"e16","t":20,"v":-0.12},{"c":3,"g":3,"i":"e16","t":27,"v":-0.2},{"c":3,"g":3,"i":"e16","t":34,"v":-0.04},{"c":3,"g":3,"i":"e16","t":41,"v":0.15},{"c":3,"g":3,"i":"e16","t":48,"v":0.22},{"c":3,"g":3,"i":"e16","t":55,"v":0.16},{"c":3,"g":3,"i":"e16","t":62,"v":0.02},{"c":3,"g":3,"i":"e16","t":70,"v":-0.12},{"c":3,"g":3,"i":"e16","t":78,"v":-0.16},{"c":3,"g":3,"i":"e16","t":84,"v":-0.06},{"c":3,"g":3,"i":"e16","t":89,"v":0.0},
{"c":4,"g":2,"i":"f1","t":0,"v":0.17},{"c":4,"g":2,"i":"f1","t":4,"v":0.05},{"c":4,"g":2,"i":"f1","t":9,"v":-0.17},{"c":4,"g":2,"i":"f1","t":14,"v":-0.12},{"c":4,"g":2,"i":"f1","t":20,"v":0.05},{"c":4,"g":2,"i":"f1","t":27,"v":0.22},{"c":4,"g":2,"i":"f1","t":34,"v":0.08},{"c":4,"g":2,"i":"f1","t":41,"v":-0.14},{"c":4,"g":2,"i":"f1","t":46,"v":-0.3},{"c":4,"g":2,"i":"f1","t":51,"v":-0.37},{"c":4,"g":2,"i":"f1","t":56,"v":-0.33},{"c":4,"g":2,"i":"f1","t":62,"v":-0.2},{"c":4,"g":2,"i":"f1","t":70,"v":-0.06},{"c":4,"g":2,"i":"f1","t":78,"v":0.04},{"c":4,"g":2,"i":"f1","t":84,"v":0.045},{"c":4,"g":2,"i":"f1","t":89,"v":0.04},
{"c":4,"g":2,"i":"f2","t":0,"v":0.0},{"c":4,"g":2,"i":"f2","t":6,"v":-0.08},{"c":4,"g":2,"i":"f2","t":11,"v":-0.11},{"c":4,"g":2,"i":"f2","t":16,"v":-0.06},{"c":4,"g":2,"i":"f2","t":21,"v":0.06},{"c":4,"g":2,"i":"f2","t":27,"v":0.13},{"c":4,"g":2,"i":"f2","t":34,"v":0.04},{"c":4,"g":2,"i":"f2","t":41,"v":-0.12},{"c":4,"g":2,"i":"f2","t":47,"v":-0.24},{"c":4,"g":2,"i":"f2","t":52,"v":-0.27},{"c":4,"g":2,"i":"f2","t":58,"v":-0.2},{"c":4,"g":2,"i":"f2","t":65,"v":-0.1},{"c":4,"g":2,"i":"f2","t":71,"v":-0.04},{"c":4,"g":2,"i":"f2","t":75,"v":-0.05},{"c":4,"g":2,"i":"f2","t":80,"v":-0.04},{"c":4,"g":2,"i":"f2","t":85,"v":-0.01},{"c":4,"g":2,"i":"f2","t":89,"v":0.02},
{"c":4,"g":4,"i":"f3","t":0,"v":-0.035},{"c":4,"g":4,"i":"f3","t":6,"v":-0.05},{"c":4,"g":4,"i":"f3","t":11,"v":-0.045},{"c":4,"g":4,"i":"f3","t":17,"v":0.03},{"c":4,"g":4,"i":"f3","t":22,"v":0.1},{"c":4,"g":4,"i":"f3","t":27,"v":0.155},{"c":4,"g":4,"i":"f3","t":33,"v":0.08},{"c":4,"g":4,"i":"f3","t":39,"v":-0.08},{"c":4,"g":4,"i":"f3","t":45,"v":-0.17},{"c":4,"g":4,"i":"f3","t":50,"v":-0.13},{"c":4,"g":4,"i":"f3","t":57,"v":-0.02},{"c":4,"g":4,"i":"f3","t":64,"v":0.07},{"c":4,"g":4,"i":"f3","t":70,"v":0.13},{"c":4,"g":4,"i":"f3","t":75,"v":0.15},{"c":4,"g":4,"i":"f3","t":80,"v":0.12},{"c":4,"g":4,"i":"f3","t":85,"v":0.02},{"c":4,"g":4,"i":"f3","t":89,"v":-0.07},
{"c":4,"g":4,"i":"f4","t":0,"v":-0.04},{"c":4,"g":4,"i":"f4","t":5,"v":-0.1},{"c":4,"g":4,"i":"f4","t":9,"v":-0.16},{"c":4,"g":4,"i":"f4","t":14,"v":-0.1},{"c":4,"g":4,"i":"f4","t":20,"v":0.03},{"c":4,"g":4,"i":"f4","t":27,"v":0.11},{"c":4,"g":4,"i":"f4","t":34,"v":0.05},{"c":4,"g":4,"i":"f4","t":41,"v":-0.1},{"c":4,"g":4,"i":"f4","t":47,"v":-0.22},{"c":4,"g":4,"i":"f4","t":52,"v":-0.32},{"c":4,"g":4,"i":"f4","t":55,"v":-0.44},{"c":4,"g":4,"i":"f4","t":58,"v":-0.485},{"c":4,"g":4,"i":"f4","t":62,"v":-0.49},{"c":4,"g":4,"i":"f4","t":68,"v":-0.485},{"c":4,"g":4,"i":"f4","t":74,"v":-0.47},{"c":4,"g":4,"i":"f4","t":80,"v":-0.45},{"c":4,"g":4,"i":"f4","t":85,"v":-0.425},{"c":4,"g":4,"i":"f4","t":89,"v":-0.4},
{"c":4,"g":4,"i":"f5","t":0,"v":-0.045},{"c":4,"g":4,"i":"f5","t":6,"v":-0.06},{"c":4,"g":4,"i":"f5","t":11,"v":-0.1},{"c":4,"g":4,"i":"f5","t":16,"v":-0.05},{"c":4,"g":4,"i":"f5","t":21,"v":0.05},{"c":4,"g":4,"i":"f5","t":27,"v":0.12},{"c":4,"g":4,"i":"f5","t":34,"v":0.06},{"c":4,"g":4,"i":"f5","t":41,"v":-0.08},{"c":4,"g":4,"i":"f5","t":47,"v":-0.2},{"c":4,"g":4,"i":"f5","t":53,"v":-0.27},{"c":4,"g":4,"i":"f5","t":58,"v":-0.25},{"c":4,"g":4,"i":"f5","t":65,"v":-0.15},{"c":4,"g":4,"i":"f5","t":72,"v":-0.09},{"c":4,"g":4,"i":"f5","t":78,"v":-0.05},{"c":4,"g":4,"i":"f5","t":84,"v":-0.02},{"c":4,"g":4,"i":"f5","t":89,"v":0.01},
{"c":5,"g":4,"i":"h1","t":0,"v":0.06},{"c":5,"g":4,"i":"h1","t":4,"v":0.05},{"c":5,"g":4,"i":"h1","t":9,"v":-0.02},{"c":5,"g":4,"i":"h1","t":14,"v":-0.13},{"c":5,"g":4,"i":"h1","t":19,"v":-0.23},{"c":5,"g":4,"i":"h1","t":24,"v":-0.29},{"c":5,"g":4,"i":"h1","t":28,"v":-0.31},{"c":5,"g":4,"i":"h1","t":33,"v":-0.27},{"c":5,"g":4,"i":"h1","t":39,"v":-0.18},{"c":5,"g":4,"i":"h1","t":45,"v":-0.08},{"c":5,"g":4,"i":"h1","t":50,"v":0.0},{"c":5,"g":4,"i":"h1","t":56,"v":0.1},{"c":5,"g":4,"i":"h1","t":62,"v":0.19},{"c":5,"g":4,"i":"h1","t":67,"v":0.25},{"c":5,"g":4,"i":"h1","t":72,"v":0.285},{"c":5,"g":4,"i":"h1","t":77,"v":0.3},{"c":5,"g":4,"i":"h1","t":81,"v":0.29},{"c":5,"g":4,"i":"h1","t":85,"v":0.25},{"c":5,"g":4,"i":"h1","t":89,"v":0.2},
{"c":5,"g":4,"i":"h2","t":0,"v":0.085},{"c":5,"g":4,"i":"h2","t":4,"v":0.07},{"c":5,"g":4,"i":"h2","t":9,"v":0.0},{"c":5,"g":4,"i":"h2","t":14,"v":-0.1},{"c":5,"g":4,"i":"h2","t":19,"v":-0.2},{"c":5,"g":4,"i":"h2","t":24,"v":-0.265},{"c":5,"g":4,"i":"h2","t":28,"v":-0.28},{"c":5,"g":4,"i":"h2","t":33,"v":-0.25},{"c":5,"g":4,"i":"h2","t":39,"v":-0.19},{"c":5,"g":4,"i":"h2","t":45,"v":-0.11},{"c":5,"g":4,"i":"h2","t":50,"v":-0.04},{"c":5,"g":4,"i":"h2","t":56,"v":0.03},{"c":5,"g":4,"i":"h2","t":62,"v":0.08},{"c":5,"g":4,"i":"h2","t":67,"v":0.11},{"c":5,"g":4,"i":"h2","t":72,"v":0.15},{"c":5,"g":4,"i":"h2","t":77,"v":0.22},{"c":5,"g":4,"i":"h2","t":81,"v":0.265},{"c":5,"g":4,"i":"h2","t":85,"v":0.24},{"c":5,"g":4,"i":"h2","t":89,"v":0.19},
{"c":5,"g":4,"i":"h3","t":0,"v":0.03},{"c":5,"g":4,"i":"h3","t":4,"v":0.03},{"c":5,"g":4,"i":"h3","t":9,"v":-0.03},{"c":5,"g":4,"i":"h3","t":14,"v":-0.14},{"c":5,"g":4,"i":"h3","t":19,"v":-0.24},{"c":5,"g":4,"i":"h3","t":24,"v":-0.31},{"c":5,"g":4,"i":"h3","t":28,"v":-0.33},{"c":5,"g":4,"i":"h3","t":33,"v":-0.3},{"c":5,"g":4,"i":"h3","t":39,"v":-0.2},{"c":5,"g":4,"i":"h3","t":45,"v":-0.1},{"c":5,"g":4,"i":"h3","t":50,"v":-0.02},{"c":5,"g":4,"i":"h3","t":56,"v":0.06},{"c":5,"g":4,"i":"h3","t":62,"v":0.12},{"c":5,"g":4,"i":"h3","t":67,"v":0.16},{"c":5,"g":4,"i":"h3","t":72,"v":0.18},{"c":5,"g":4,"i":"h3","t":77,"v":0.185},{"c":5,"g":4,"i":"h3","t":81,"v":0.17},{"c":5,"g":4,"i":"h3","t":85,"v":0.145},{"c":5,"g":4,"i":"h3","t":89,"v":0.12},
{"c":5,"g":4,"i":"h4","t":0,"v":0.045},{"c":5,"g":4,"i":"h4","t":4,"v":0.04},{"c":5,"g":4,"i":"h4","t":9,"v":-0.04},{"c":5,"g":4,"i":"h4","t":14,"v":-0.15},{"c":5,"g":4,"i":"h4","t":19,"v":-0.21},{"c":5,"g":4,"i":"h4","t":24,"v":-0.24},{"c":5,"g":4,"i":"h4","t":28,"v":-0.245},{"c":5,"g":4,"i":"h4","t":33,"v":-0.235},{"c":5,"g":4,"i":"h4","t":39,"v":-0.2},{"c":5,"g":4,"i":"h4","t":45,"v":-0.16},{"c":5,"g":4,"i":"h4","t":50,"v":-0.13},{"c":5,"g":4,"i":"h4","t":56,"v":-0.115},{"c":5,"g":4,"i":"h4","t":62,"v":-0.095},{"c":5,"g":4,"i":"h4","t":67,"v":-0.07},{"c":5,"g":4,"i":"h4","t":72,"v":-0.03},{"c":5,"g":4,"i":"h4","t":77,"v":0.05},{"c":5,"g":4,"i":"h4","t":81,"v":0.045},{"c":5,"g":4,"i":"h4","t":85,"v":0.0},{"c":5,"g":4,"i":"h4","t":89,"v":-0.05}
]
},
"vconcat": [
{
  "data": {"name": "strips"},
  "facet": {"column": {"field": "c", "type": "ordinal", "header": {"labels": false, "title": null}}},
  "spacing": 6,
  "spec": {
    "width": 140, "height": 23,
    "view": {"fill": "#C2C2C2", "stroke": "#8A8A8A", "strokeWidth": 1},
    "mark": {"type": "text", "fontSize": 16, "color": "#1A1A1A", "baseline": "middle"},
    "encoding": {"text": {"field": "lab", "type": "nominal"}}
  }
},
{
  "data": {"name": "curves"},
  "facet": {"column": {"field": "c", "type": "ordinal", "header": {"labels": false, "title": "Time", "titleOrient": "bottom", "titleFontSize": 20, "titleFontWeight": "normal", "titleColor": "#000000", "titlePadding": -4}}},
  "spacing": 6,
  "spec": {
    "width": 140, "height": 227,
    "view": {"fill": "#FFFFFF", "stroke": "#7F7F7F", "strokeWidth": 1},
    "mark": {"type": "line", "interpolate": "monotone", "strokeWidth": 1.6},
    "encoding": {
      "x": {"field": "t", "type": "quantitative",
        "scale": {"domain": [-4.45, 93.45], "nice": false, "zero": false},
        "axis": {"title": null, "values": [0, 12.5, 25, 37.5, 50, 62.5, 75, 87.5],
          "labelExpr": "datum.value % 25 == 0 ? datum.label : ''",
          "grid": true, "domain": false,
          "gridColor": {"condition": {"test": "datum.value % 25 != 0", "value": "#F5F5F5"}, "value": "#E6E6E6"},
          "tickOpacity": {"condition": {"test": "datum.value % 25 != 0", "value": 0}, "value": 1},
          "tickColor": "#333333", "tickSize": 4, "labelFontSize": 16, "labelColor": "#222222",
          "labelPadding": 2, "labelFlush": false, "labelOverlap": false}},
      "y": {"field": "v", "type": "quantitative",
        "scale": {"domain": [-0.542, 0.602], "nice": false, "zero": false},
        "axis": {"title": "value", "titleFontSize": 20, "titleFontWeight": "normal", "titleColor": "#000000", "titlePadding": 4,
          "values": [-0.45, -0.3, -0.15, 0, 0.15, 0.3, 0.45],
          "labelExpr": "datum.value == 0.3 ? '0.3' : datum.value == 0 ? '0.0' : datum.value == -0.3 ? '-0.3' : ''",
          "grid": true, "domain": false,
          "gridColor": {"condition": {"test": "abs(datum.value) == 0.15 || abs(datum.value) == 0.45", "value": "#F5F5F5"}, "value": "#E6E6E6"},
          "tickOpacity": {"condition": {"test": "abs(datum.value) == 0.15 || abs(datum.value) == 0.45", "value": 0}, "value": 1},
          "tickColor": "#333333", "tickSize": 4, "labelFontSize": 16, "labelColor": "#222222",
          "labelPadding": 2, "labelOverlap": false}},
      "color": {"field": "g", "type": "nominal",
        "scale": {"domain": [1, 2, 3, 4], "range": ["#F8766D", "#7CAE00", "#00BFC4", "#C77CFF"]},
        "legend": {"title": "OFM Clusters", "orient": "none", "legendX": 752, "legendY": 68,
          "symbolType": "stroke", "symbolSize": 576, "symbolStrokeWidth": 2,
          "titleFontSize": 16, "titleFontWeight": "bold", "titleColor": "#000000", "titlePadding": 8,
          "labelFontSize": 16, "labelColor": "#000000", "labelOffset": 6, "rowPadding": 9, "padding": 0}},
      "detail": {"field": "i", "type": "nominal"}
    }
  }
}
]
}
